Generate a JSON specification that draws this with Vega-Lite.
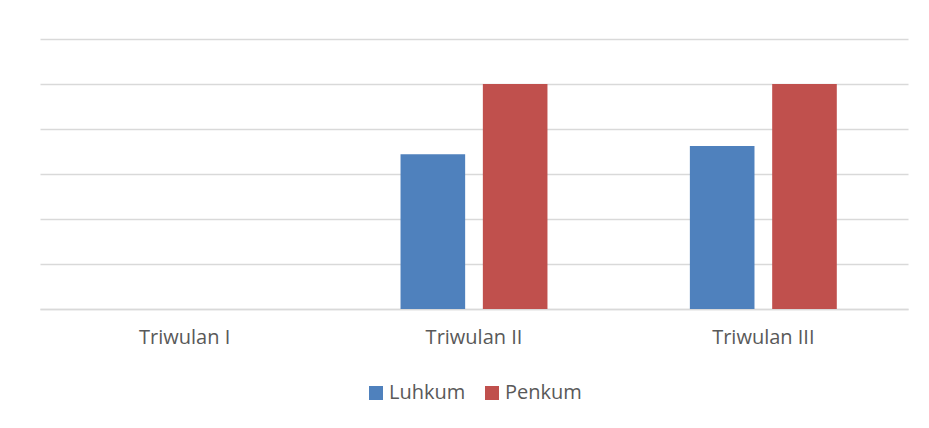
{
  "$schema": "https://vega.github.io/schema/vega-lite/v6.json",
  "autosize": "none",
  "width": 868,
  "height": 270,
  "padding": {"left": 40, "top": 39, "right": 21, "bottom": 119},
  "background": "white",
  "data": {
    "values": [
      {"triwulan": "Triwulan I", "seri": "Luhkum", "nilai": 0},
      {"triwulan": "Triwulan I", "seri": "Penkum", "nilai": 0},
      {"triwulan": "Triwulan II", "seri": "Luhkum", "nilai": 3.44},
      {"triwulan": "Triwulan II", "seri": "Penkum", "nilai": 5},
      {"triwulan": "Triwulan III", "seri": "Luhkum", "nilai": 3.62},
      {"triwulan": "Triwulan III", "seri": "Penkum", "nilai": 5}
    ]
  },
  "mark": {"type": "bar"},
  "encoding": {
    "x": {
      "field": "triwulan",
      "type": "nominal",
      "sort": ["Triwulan I", "Triwulan II", "Triwulan III"],
      "scale": {"paddingInner": 0, "paddingOuter": 0},
      "axis": {
        "title": null,
        "labelAngle": 0,
        "labelFont": "Open Sans",
        "labelFontSize": 20,
        "labelColor": "#595959",
        "labelPadding": 18,
        "ticks": false,
        "domain": true,
        "domainColor": "#d9d9d9",
        "domainWidth": 1.5,
        "grid": false
      }
    },
    "xOffset": {
      "field": "seri",
      "type": "nominal",
      "scale": {"paddingInner": 0.215, "paddingOuter": 0.865}
    },
    "y": {
      "field": "nilai",
      "type": "quantitative",
      "scale": {"domain": [0, 6], "nice": false},
      "axis": {
        "title": null,
        "labels": false,
        "ticks": false,
        "domain": false,
        "values": [0, 1, 2, 3, 4, 5, 6],
        "grid": true,
        "gridColor": "#d9d9d9",
        "gridWidth": 1.5
      }
    },
    "color": {
      "field": "seri",
      "type": "nominal",
      "scale": {"domain": ["Luhkum", "Penkum"], "range": ["#4F81BD", "#C0504D"]},
      "legend": {
        "title": null,
        "orient": "none",
        "direction": "horizontal",
        "legendX": 326,
        "legendY": 344,
        "symbolType": "square",
        "symbolSize": 196,
        "symbolStrokeWidth": 0,
        "labelFont": "Open Sans",
        "labelFontSize": 20,
        "labelColor": "#595959",
        "labelOffset": 3,
        "columnPadding": 16
      }
    }
  },
  "config": {
    "view": {"stroke": null}
  }
}
